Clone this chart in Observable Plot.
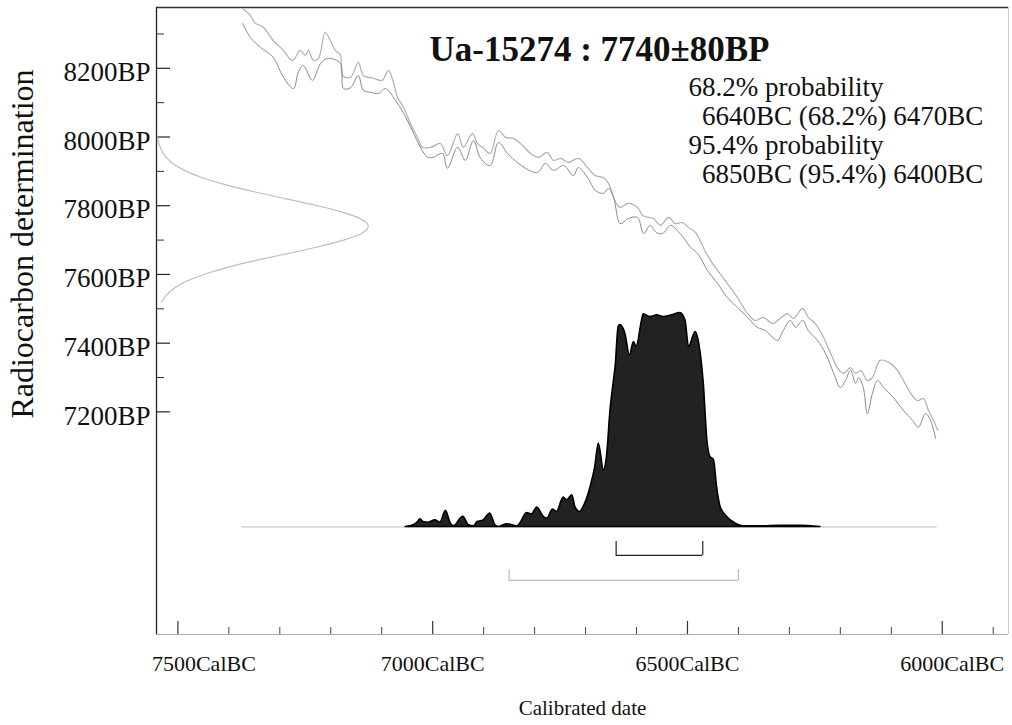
<!DOCTYPE html>
<html><head><meta charset="utf-8">
<script src="https://cdn.jsdelivr.net/npm/d3@7"></script>
<script src="https://cdn.jsdelivr.net/npm/@observablehq/plot@0.6"></script>
<style>html,body{margin:0;padding:0;background:#fff;}</style>
</head><body><div id="chart"></div>
<script>
// ---------- data ----------
const titleText = "Ua-15274 : 7740±80BP";
const probLines = ["68.2% probability", "\u00a0\u00a06640BC (68.2%) 6470BC", "95.4% probability", "\u00a0\u00a06850BC (95.4%) 6400BC"];
const range68 = [6640, 6470];
const range95 = [6850, 6400];
const calRange = [7375, 6010];
const yTickLabels = [8200, 8000, 7800, 7600, 7400, 7200];
const yMinorTicks = [8300, 8100, 7900, 7700, 7500, 7300];
const xTickLabels = [7500, 7000, 6500, 6000];
const xMinorTicks = [7400, 7300, 7200, 7100, 6900, 6800, 6700, 6600, 6400, 6300, 6200, 6100, 5900];
const xAxisTitle = "Calibrated date";
const yAxisTitle = "Radiocarbon determination";

// radiocarbon measurement distribution (BP, relative probability)
const rcBP = [7520,7540,7560,7580,7600,7620,7640,7660,7680,7700,7720,7740,7760,7780,7800,7820,7840,7860,7880,7900,7920,7940,7960,7980,8000];
const rcProb = [0.023,0.044,0.080,0.135,0.216,0.325,0.458,0.607,0.755,0.882,0.969,1.0,0.969,0.882,0.755,0.607,0.458,0.325,0.216,0.135,0.080,0.044,0.023,0.011,0.005];

// calibration curve, upper and lower envelope (cal BC, BP)
const upperBC = [7373,7358,7348,7332,7313,7293,7275,7260,7250,7244,7234,7224,7211,7201,7191,7181,7177,7161,7146,7136,7116,7099,7087,7077,7069,7057,7044,7030,7020,7004,6985,6971,6951,6940,6922,6912,6900,6887,6871,6857,6842,6824,6808,6792,6775,6763,6749,6734,6714,6696,6681,6665,6655,6641,6632,6616,6598,6588,6577,6567,6553,6537,6524,6510,6498,6484,6469,6455,6441,6422,6402,6382,6367,6351,6333,6318,6304,6292,6274,6263,6249,6233,6219,6206,6194,6180,6170,6160,6147,6137,6122,6105,6088,6076,6062,6049,6037,6027,6017,6009];
const upperBP = [8374,8354,8331,8319,8281,8252,8223,8252,8238,8252,8223,8229,8305,8281,8252,8238,8179,8174,8217,8179,8171,8165,8194,8159,8115,8086,8040,7999,7970,7970,7981,7946,8010,7970,8010,7981,7967,7952,8019,7999,7996,7976,7952,7941,7955,7932,7938,7926,7938,7911,7888,7882,7865,7810,7795,7807,7795,7772,7766,7763,7743,7766,7748,7751,7737,7722,7679,7641,7612,7574,7533,7486,7466,7475,7457,7472,7486,7472,7501,7475,7457,7417,7370,7329,7312,7329,7312,7321,7291,7300,7350,7344,7321,7291,7254,7233,7239,7204,7175,7146];
const lowerBC = [7373,7358,7338,7313,7293,7273,7264,7254,7236,7220,7205,7181,7175,7161,7146,7136,7122,7106,7093,7073,7057,7040,7024,7010,6999,6981,6971,6951,6936,6920,6906,6887,6871,6853,6834,6818,6794,6779,6763,6743,6724,6714,6696,6681,6665,6655,6645,6632,6616,6598,6586,6573,6561,6549,6533,6520,6508,6494,6480,6461,6441,6422,6402,6382,6363,6347,6333,6323,6312,6298,6288,6274,6263,6245,6229,6213,6200,6190,6180,6170,6164,6155,6147,6137,6127,6115,6096,6076,6058,6047,6033,6023,6013];
const lowerBP = [8331,8290,8261,8232,8174,8141,8188,8208,8165,8214,8229,8214,8141,8144,8179,8136,8130,8127,8141,8107,8069,8019,7970,7941,7941,7952,7909,7970,7932,7990,7938,7917,7984,7952,7926,7909,7897,7923,7903,7917,7888,7911,7882,7845,7836,7850,7824,7748,7763,7766,7719,7743,7722,7719,7743,7728,7708,7679,7661,7612,7574,7533,7504,7475,7446,7437,7417,7408,7437,7466,7446,7466,7437,7408,7370,7312,7271,7291,7321,7283,7300,7271,7195,7254,7291,7271,7242,7204,7175,7155,7195,7175,7123];

// calibrated probability distribution (cal BC, relative probability)
const densBC = [7053,7044,7030,7024,7018,7008,6995,6985,6974,6965,6959,6940,6929,6919,6912,6900,6887,6877,6870,6854,6834,6828,6815,6805,6795,6782,6775,6764,6756,6743,6736,6726,6720,6711,6704,6690,6681,6674,6664,6658,6651,6645,6641,6635,6632,6622,6613,6605,6600,6589,6586,6573,6559,6547,6530,6514,6504,6497,6484,6474,6468,6461,6455,6448,6442,6435,6422,6409,6389,6357,6317,6278,6239];
const densProb = [0,0.003,0.019,0.036,0.023,0.020,0.031,0.020,0.075,0.019,0.003,0.047,0.008,0.003,0.023,0.031,0.063,0.008,0,0.013,0.003,0.016,0.065,0.059,0.091,0.047,0.039,0.081,0.070,0.137,0.125,0.148,0.093,0.070,0.093,0.187,0.280,0.390,0.265,0.327,0.545,0.670,0.748,0.935,0.943,0.904,0.802,0.864,0.841,0.966,0.994,0.981,0.989,0.981,0.989,1.0,0.966,0.841,0.911,0.810,0.670,0.405,0.327,0.312,0.187,0.093,0.047,0.021,0.003,0.003,0.006,0.005,0];

// ---------- layout ----------
const W = 1012, H = 725;
const mL = 156, mR = 4, mT = 7, mB = 91;
const FW = W - mL - mR, FH = H - mT - mB;
const X_LEFT = 7542, X_RIGHT = 5870, Y_BOTTOM = 6552, Y_TOP = 8377;
const BP_PER_PX = (Y_TOP - Y_BOTTOM) / FH;
const BC_PER_PX = (X_LEFT - X_RIGHT) / FW;
const DBASE = 6865;               // baseline of calibrated distribution
const DH = 214 * BP_PER_PX;       // height of distribution peak
const GW = 214 * BC_PER_PX;       // width of radiocarbon distribution peak
const BR68 = DBASE - 28.5 * BP_PER_PX;
const BR95 = DBASE - 53.5 * BP_PER_PX;

const upper = upperBC.map((bc, i) => ({bc, bp: upperBP[i]}));
const lower = lowerBC.map((bc, i) => ({bc, bp: lowerBP[i]}));
const rc = rcBP.map((bp, i) => ({bp, p: rcProb[i]}));
const dens = densBC.map((bc, i) => ({bc, p: densProb[i]}));

const font = "Liberation Serif, 'Times New Roman', serif";
const xLabelFont = 22;

const chart = Plot.plot({
  width: W, height: H,
  marginLeft: mL, marginRight: mR, marginTop: mT, marginBottom: mB,
  style: {fontFamily: font, background: "#fff", color: "#111", overflow: "visible"},
  x: {domain: [X_LEFT, X_RIGHT], axis: null},
  y: {domain: [Y_BOTTOM, Y_TOP], axis: null},
  marks: [
    // frame
    Plot.ruleY([Y_BOTTOM], {stroke: "#aaa", strokeWidth: 1}),
    Plot.ruleX([X_RIGHT], {stroke: "#ccc", strokeWidth: 1}),
    Plot.ruleY([Y_TOP], {stroke: "#333", strokeWidth: 1.3}),
    Plot.ruleX([X_LEFT], {stroke: "#222", strokeWidth: 1.3}),
    // inward ticks
    Plot.ruleY(yTickLabels, {y: d => d, insetRight: FW - 14, stroke: "#222", strokeWidth: 1.2}),
    Plot.ruleY(yMinorTicks, {y: d => d, insetRight: FW - 8, stroke: "#333", strokeWidth: 1}),
    Plot.ruleX(xTickLabels, {x: d => d, insetTop: FH - 13, stroke: "#333", strokeWidth: 1.2}),
    Plot.ruleX(xMinorTicks, {x: d => d, insetTop: FH - 7, stroke: "#444", strokeWidth: 1}),
    // calibration curve envelope
    Plot.line(upper, {x: "bc", y: "bp", stroke: "#b0b0b0", strokeWidth: 1.2, curve: "catmull-rom", clip: true}),
    Plot.line(lower, {x: "bc", y: "bp", stroke: "#8a8a8a", strokeWidth: 1, curve: "catmull-rom", clip: true}),
    // radiocarbon measurement distribution
    Plot.line(rc, {x: d => X_LEFT - d.p * GW, y: "bp", stroke: "#bdbdbd", strokeWidth: 1.2, curve: "basis"}),
    // calibrated distribution
    Plot.ruleY([DBASE], {x1: calRange[0], x2: calRange[1], stroke: "#bbb", strokeWidth: 1}),
    Plot.areaY(dens, {x: "bc", y1: DBASE, y2: d => DBASE + d.p * DH, fill: "#222", stroke: "#000", strokeWidth: 1.6, curve: "monotone-x"}),
    // ranges
    Plot.ruleY([range68], {x1: d => d[0], x2: d => d[1], y: BR68, stroke: "#222", strokeWidth: 1.2}),
    Plot.ruleX(range68, {x: d => d, y1: BR68, y2: BR68 + 14 * BP_PER_PX, stroke: "#222", strokeWidth: 1.2}),
    Plot.ruleY([range95], {x1: d => d[0], x2: d => d[1], y: BR95, stroke: "#bbb", strokeWidth: 1.2}),
    Plot.ruleX(range95, {x: d => d, y1: BR95, y2: BR95 + 11 * BP_PER_PX, stroke: "#bbb", strokeWidth: 1.2}),
    // tick labels
    Plot.text(yTickLabels, {y: d => d, text: d => `${d}BP`, frameAnchor: "left", textAnchor: "end", dx: -6, dy: 4, fontSize: 27, fill: "#111"}),
    Plot.text(xTickLabels.slice(1, 3), {x: d => d, text: d => `${d}CalBC`, frameAnchor: "bottom", textAnchor: "middle", dy: 36, fontSize: xLabelFont, fill: "#111"}),
    Plot.text(xTickLabels.slice(0, 1), {x: d => d, text: d => `${d}CalBC`, frameAnchor: "bottom", textAnchor: "middle", dx: 26, dy: 36, fontSize: xLabelFont, fill: "#111"}),
    Plot.text(xTickLabels.slice(3), {x: d => d, text: d => `${d}CalBC`, frameAnchor: "bottom", textAnchor: "middle", dx: 10, dy: 36, fontSize: xLabelFont, fill: "#111"}),
    // axis titles
    Plot.text([xAxisTitle], {text: d => d, frameAnchor: "bottom", textAnchor: "middle", dy: 80, fontSize: 21, fill: "#111"}),
    Plot.text([yAxisTitle], {text: d => d, frameAnchor: "left", textAnchor: "middle", dx: -134, dy: -77, rotate: -90, fontSize: 32, fill: "#111"}),
    // title and results
    Plot.text([titleText], {text: d => d, frameAnchor: "top", textAnchor: "middle", dx: 17, dy: 29, fontSize: 35, fontWeight: "bold", fill: "#111"}),
    Plot.text([probLines.join("\n")], {text: d => d, frameAnchor: "top-left", textAnchor: "start", lineAnchor: "top", lineHeight: 1.07, dx: 532, dy: 68, fontSize: 27, fill: "#111"})
  ]
});
document.getElementById("chart").appendChild(chart);
</script>
</body></html>
